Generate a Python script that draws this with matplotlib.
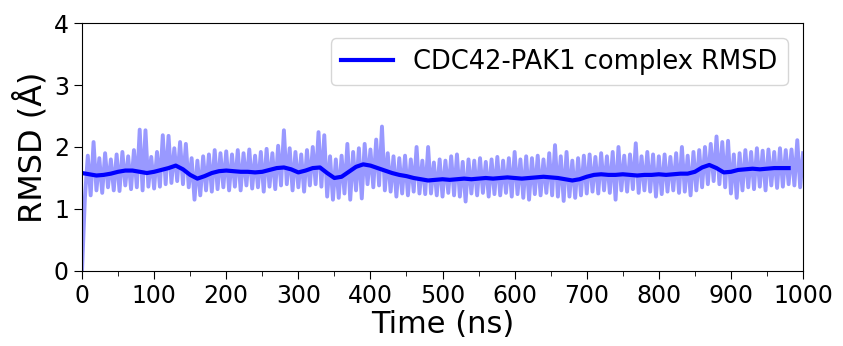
import numpy as np
import matplotlib
matplotlib.use("Agg")
import matplotlib.pyplot as plt
from matplotlib.ticker import MultipleLocator

# raw RMSD trace, one value every 4 ns
frame_ns = 4
rmsd_raw = [
    0.00, 1.18, 1.86, 1.22, 2.08, 1.30, 1.82, 1.26, 1.90, 1.35,
    1.80, 1.30, 1.88, 1.29, 1.92, 1.38, 1.85, 1.32, 1.95, 1.35,
    2.28, 1.30, 2.27, 1.36, 1.84, 1.33, 1.92, 1.36, 2.19, 1.40,
    2.18, 1.42, 1.98, 1.45, 2.08, 1.40, 2.05, 1.35, 1.82, 1.15,
    1.78, 1.22, 1.85, 1.30, 1.88, 1.28, 1.95, 1.32, 1.90, 1.35,
    1.93, 1.30, 1.88, 1.36, 1.95, 1.30, 1.90, 1.38, 1.96, 1.33,
    1.86, 1.35, 1.92, 1.28, 1.97, 1.36, 1.90, 1.32, 2.02, 1.38,
    2.27, 1.40, 1.98, 1.30, 1.92, 1.35, 1.88, 1.28, 1.95, 1.38,
    2.00, 1.40, 2.24, 1.36, 2.19, 1.20, 1.85, 1.15, 1.80, 1.18,
    1.86, 1.25, 2.05, 1.15, 1.92, 1.30, 1.98, 1.17, 2.05, 1.40,
    1.96, 1.35, 2.12, 1.38, 2.33, 1.30, 1.90, 1.28, 1.85, 1.20,
    1.82, 1.25, 1.86, 1.22, 1.80, 1.28, 2.00, 1.25, 1.78, 1.24,
    2.00, 1.25, 1.75, 1.22, 1.80, 1.20, 1.78, 1.26, 1.85, 1.22,
    1.88, 1.20, 1.76, 1.12, 1.80, 1.25, 1.78, 1.22, 1.82, 1.26,
    1.76, 1.20, 1.80, 1.24, 1.84, 1.22, 1.78, 1.26, 1.82, 1.20,
    1.92, 1.24, 1.80, 1.18, 1.85, 1.15, 1.82, 1.24, 1.86, 1.22,
    1.80, 1.26, 1.90, 1.22, 2.03, 1.20, 1.85, 1.13, 1.92, 1.20,
    1.78, 1.18, 1.82, 1.22, 1.86, 1.25, 1.88, 1.28, 1.84, 1.25,
    1.90, 1.30, 1.85, 1.26, 1.92, 1.15, 2.00, 1.30, 1.86, 1.28,
    1.88, 1.32, 2.06, 1.26, 1.85, 1.30, 1.92, 1.28, 1.88, 1.20,
    1.85, 1.24, 1.88, 1.28, 1.84, 1.30, 1.90, 1.26, 2.00, 1.28,
    1.86, 1.22, 1.92, 1.30, 1.95, 1.35, 2.00, 1.40, 2.05, 1.45,
    2.17, 1.40, 2.08, 1.35, 2.10, 1.25, 1.88, 1.18, 1.90, 1.30,
    1.95, 1.35, 1.92, 1.32, 1.98, 1.36, 1.94, 1.30, 1.96, 1.38,
    1.92, 1.34, 1.98, 1.36, 1.95, 1.40, 1.96, 1.38, 2.11, 1.35,
    1.90,
]

# running average, one value every 10 ns
smooth_ns = 10
rmsd_smooth = [
    1.58, 1.56, 1.54, 1.55, 1.57, 1.60, 1.62, 1.62, 1.60, 1.58,
    1.60, 1.63, 1.66, 1.70, 1.64, 1.55, 1.49, 1.53, 1.58, 1.61,
    1.62, 1.61, 1.60, 1.60, 1.59, 1.60, 1.63, 1.66, 1.67, 1.64,
    1.59, 1.62, 1.66, 1.67, 1.58, 1.50, 1.52, 1.60, 1.68, 1.72,
    1.70, 1.66, 1.62, 1.58, 1.55, 1.53, 1.50, 1.48, 1.46, 1.47,
    1.48, 1.47, 1.48, 1.49, 1.48, 1.49, 1.50, 1.49, 1.50, 1.51,
    1.50, 1.49, 1.50, 1.51, 1.52, 1.51, 1.50, 1.48, 1.46, 1.48,
    1.52, 1.55, 1.56, 1.55, 1.55, 1.56, 1.55, 1.54, 1.55, 1.55,
    1.56, 1.55, 1.56, 1.57, 1.57, 1.60, 1.67, 1.71, 1.66, 1.59,
    1.60, 1.63, 1.64, 1.65, 1.64, 1.65, 1.66, 1.66, 1.66,
]

label = "CDC42-PAK1 complex RMSD"

t_raw = np.arange(len(rmsd_raw)) * frame_ns
t_smooth = np.arange(len(rmsd_smooth)) * smooth_ns

fig = plt.figure(figsize=(8.43, 3.46), dpi=100)
ax = fig.add_axes([0.0973, 0.2168, 0.8553, 0.7167])

ax.plot(t_raw, rmsd_raw, color="blue", alpha=0.4, linewidth=2.8)
ax.plot(t_smooth, rmsd_smooth, color="blue", linewidth=3, label=label)

ax.set_xlim(0, 1000)
ax.set_ylim(0, 4)
ax.xaxis.set_major_locator(MultipleLocator(100))
ax.xaxis.set_minor_locator(MultipleLocator(50))
ax.yaxis.set_major_locator(MultipleLocator(1))
ax.tick_params(axis="both", which="major", labelsize=17, length=6)
ax.tick_params(axis="x", which="minor", length=3.5)

ax.set_xlabel("Time (ns)", fontsize=22, labelpad=1)
ax.set_ylabel("RMSD (Å)", fontsize=23, labelpad=4)

ax.legend(loc="upper right", fontsize=18.5, borderaxespad=0.6)

fig.savefig("out.png", dpi=100)
